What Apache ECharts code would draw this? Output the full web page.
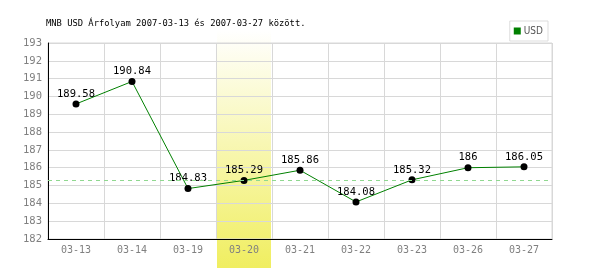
<!DOCTYPE html>
<html><head><meta charset="utf-8">
<script src="https://cdn.jsdelivr.net/npm/echarts@6/dist/echarts.min.js"></script>
<style>html,body{margin:0;padding:0;background:#fff}#c{width:600px;height:270px}</style>
</head><body><div id="c"></div>
<script>
var categories = ['03-13','03-14','03-19','03-20','03-21','03-22','03-23','03-26','03-27'];
var usdValues = [189.58, 190.84, 184.83, 185.29, 185.86, 184.08, 185.32, 186, 186.05];
var highlight = [null, null, null, 1, null, null, null, null, null];
var refValue = 185.29;
var titleText = 'MNB USD Árfolyam 2007-03-13 és 2007-03-27 között.';
var mono = '"DejaVu Sans Mono", "Liberation Mono", monospace';

var chart = echarts.init(document.getElementById('c'));
chart.setOption({
  animation: false,
  title: { text: titleText, left: 41, top: 14, textStyle: { fontFamily: mono, fontSize: 8.8, fontWeight: 'normal', color: '#000' } },
  legend: {
    right: 52, top: 21, padding: [5, 5, 5, 4], itemWidth: 7, itemHeight: 7, itemGap: 3,
    borderColor: '#dddddd', borderWidth: 1,
    textStyle: { fontFamily: '"Liberation Sans Narrow", "DejaVu Sans Condensed", sans-serif', fontSize: 10, color: '#555', padding: [0, 0, 0, -2] },
    data: [{ name: 'USD', icon: 'rect', itemStyle: { color: '#008000' } }]
  },
  grid: [
    { left: 48, right: 48, top: 43, bottom: 31, show: true, borderColor: '#d8d8d8', borderWidth: 1 },
    { left: 48, right: 48, top: 30, bottom: 2 }
  ],
  xAxis: [
    { type: 'category', data: categories, gridIndex: 0, boundaryGap: true,
      axisLine: { lineStyle: { color: '#000', width: 1 } },
      axisTick: { show: false },
      axisLabel: { fontFamily: mono, fontSize: 10, color: '#808080', margin: 6 },
      splitLine: { show: true, lineStyle: { color: '#d8d8d8', width: 1 } } },
    { type: 'category', data: categories, gridIndex: 1, show: false }
  ],
  yAxis: [
    { type: 'value', min: 182, max: 193, interval: 1, gridIndex: 0,
      axisLine: { show: true, lineStyle: { color: '#000', width: 1 } },
      axisTick: { show: false },
      axisLabel: { fontFamily: mono, fontSize: 10.5, color: '#808080', margin: 6 },
      splitLine: { show: true, lineStyle: { color: '#d8d8d8', width: 1 } } },
    { type: 'value', min: 0, max: 1, gridIndex: 1, show: false }
  ],
  series: [
    { type: 'bar', xAxisIndex: 1, yAxisIndex: 1, data: highlight, barWidth: 54, z: -1, silent: true,
      itemStyle: { color: new echarts.graphic.LinearGradient(0, 0, 0, 1, [
        { offset: 0, color: '#ffffff' }, { offset: 1, color: '#f0ee60' }]) } },
    { name: 'USD', type: 'line', data: usdValues, xAxisIndex: 0, yAxisIndex: 0,
      lineStyle: { color: '#008000', width: 1 }, itemStyle: { color: '#000' },
      symbol: 'circle', symbolSize: 7, z: 3,
      label: { show: true, position: 'top', distance: 1, fontFamily: mono, fontSize: 10.5, color: '#000' },
      markLine: { silent: true, symbol: 'none', label: { show: false },
        lineStyle: { color: '#90d890', type: [4, 4], width: 1 },
        data: [{ yAxis: refValue }] } }
  ]
});
</script></body></html>
